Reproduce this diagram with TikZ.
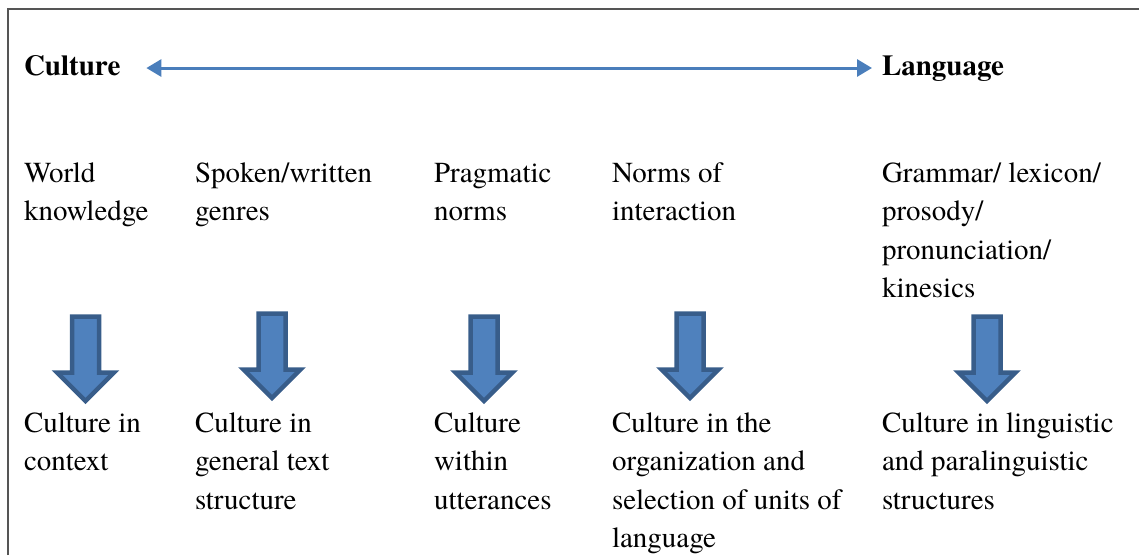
\documentclass[tikz,border=0pt]{standalone}
\usepackage{fontspec}
\setmainfont{texgyretermes}[
  Extension=.otf,
  UprightFont=*-regular,
  BoldFont=*-bold,
  ItalicFont=*-italic,
  BoldItalicFont=*-bolditalic]
\usetikzlibrary{arrows.meta}

\definecolor{linkblue}{HTML}{4A7EBB}
\definecolor{blockfill}{HTML}{4F81BD}
\definecolor{blockedge}{HTML}{385D8A}
\definecolor{framegray}{HTML}{555555}

% stacked lines whose reference point is the first baseline
\newcommand\linesof[1]{\begin{tabular}[t]{@{}l@{}}#1\end{tabular}}

\tikzset{
  txt/.style={anchor=base west, inner sep=0pt, outer sep=0pt,
    font=\rmfamily\fontsize{29}{38.5}\selectfont},
  head/.style={txt, font=\rmfamily\fontsize{29}{38.5}\selectfont\bfseries,
    text height=20pt, text depth=6pt, anchor=base west},
  link/.style={linkblue, line width=3pt,
    {Triangle[length=15pt,width=17pt]}-{Triangle[length=15pt,width=17pt]}},
  downarrow/.style={fill=blockfill, draw=blockedge, line width=4.5pt,
    line join=miter},
  pics/blockdown/.style={code={
    \path[downarrow] (-13.5,0) -- (13.5,0) -- (13.5,56) -- (28.5,56) -- (0,84.5)
      -- (-28.5,56) -- (-13.5,56) -- cycle;
  }}
}

\begin{document}
\begin{tikzpicture}[x=1pt, y=-1pt]
  \useasboundingbox (0,0) rectangle (1139,555);

  % frame (top and left edges)
  \draw[framegray, line width=2pt] (8,555) -- (8,8.5) -- (1139,8.5);

  % headings and the two-way link
  \node[head] (culture)  at (24,75)  {Culture};
  \node[head] (language) at (882,75) {Language};
  \draw[link, shorten <=26pt, shorten >=10pt]
    (culture.east) -- (culture.east -| language.west);

  % upper row
  \node[txt] (t1) at (24,182)  {\linesof{World\\knowledge}};
  \node[txt] (t2) at (195,182) {\linesof{Spoken/written\\genres}};
  \node[txt] (t3) at (434,182) {\linesof{Pragmatic\\norms}};
  \node[txt] (t4) at (612,182) {\linesof{Norms of\\interaction}};
  \node[txt] (t5) at (882,182) {\linesof{Grammar/ lexicon/\\prosody/\\pronunciation/\\kinesics}};

  % block arrows
  \pic at (85.5,316.5) {blockdown};
  \pic at (272,313.5)  {blockdown};
  \pic at (484,316.5)  {blockdown};
  \pic at (690,313.5)  {blockdown};
  \pic at (987,316.5)  {blockdown};

  % lower row
  \node[txt] (b1) at (24,432)  {\linesof{Culture in\\context}};
  \node[txt] (b2) at (195,432) {\linesof{Culture in\\general text\\structure}};
  \node[txt] (b3) at (434,432) {\linesof{Culture\\within\\utterances}};
  \node[txt] (b4) at (612,432) {\linesof{Culture in the\\organization and\\selection of units of\\language}};
  \node[txt] (b5) at (882,432) {\linesof{Culture in linguistic\\and paralinguistic\\structures}};
\end{tikzpicture}
\end{document}
